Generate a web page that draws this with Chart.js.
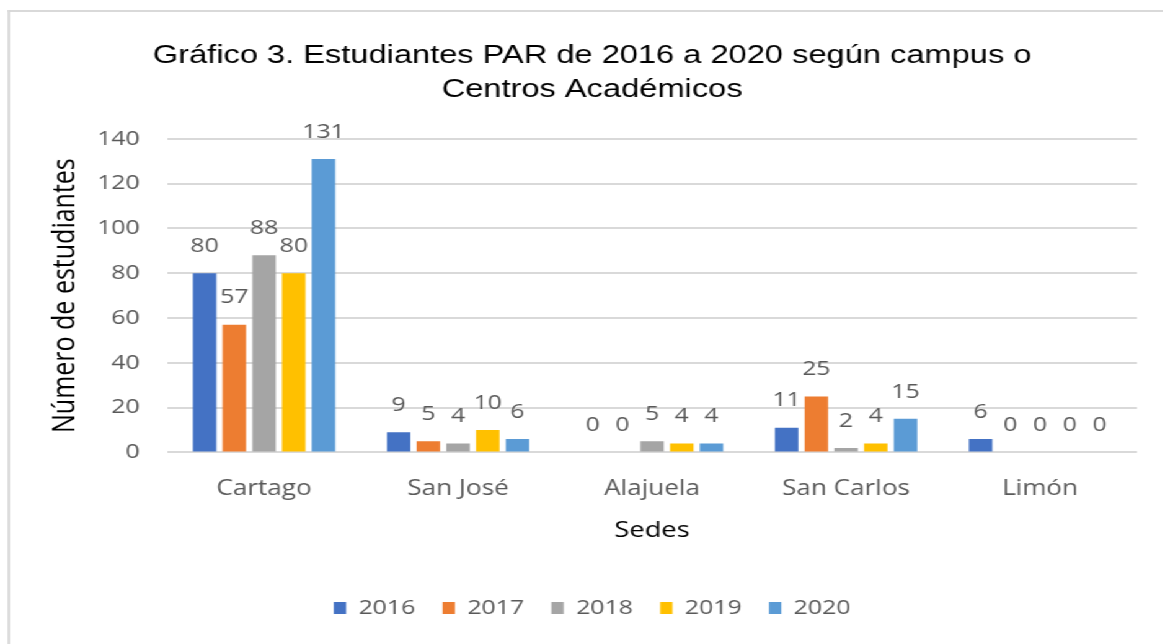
<!DOCTYPE html>
<html>
<head>
<meta charset="utf-8">
<title>Estudiantes PAR 2016-2020</title>
<script src="https://cdn.jsdelivr.net/npm/chart.js@4.4.1/dist/chart.umd.min.js"></script>
<style>
  html, body { margin: 0; padding: 0; background: #fff; overflow: hidden; }
  /* the source picture is stretched sideways, so the chart is drawn narrow and widened */
  #stage { position: absolute; left: 0; top: 0; width: 938px; height: 644px;
           transform: scaleX(1.24); transform-origin: 0 0; overflow: hidden; }
  #frame { position: absolute; left: 5.6px; top: 10px; width: 1000px; height: 700px;
           border-top: 2.5px solid #d9d9d9; border-left: 2.4px solid #d9d9d9; }
  #wrap { position: absolute; left: 0; top: 0; width: 938px; height: 644px; }
</style>
</head>
<body>
<div id="stage">
  <div id="frame"></div>
  <div id="wrap"><canvas id="chart-par"></canvas></div>
</div>
<script>
// Data
var SEDES = ['Cartago', 'San José', 'Alajuela', 'San Carlos', 'Limón'];
var YEARS = ['2016', '2017', '2018', '2019', '2020'];
var V2016 = [80, 9, 0, 11, 6];
var V2017 = [57, 5, 0, 25, 0];
var V2018 = [88, 4, 5, 2, 0];
var V2019 = [80, 10, 4, 4, 0];
var V2020 = [131, 6, 4, 15, 0];
var Y_MIN = 0, Y_MAX = 140, Y_STEP = 20;

var COLORS = ['#4472C4', '#ED7D31', '#A5A5A5', '#FFC000', '#5B9BD5'];
var SERIES = [V2016, V2017, V2018, V2019, V2020];

var LABEL_FONT = "'Open Sans', 'Noto Sans', sans-serif";
var GREY = '#595959';

// value labels above each bar (outside end, like Excel)
var barLabels = {
  id: 'barLabels',
  afterDatasetsDraw: function (chart) {
    var ctx = chart.ctx;
    ctx.save();
    ctx.font = '20px ' + LABEL_FONT;
    ctx.fillStyle = GREY;
    ctx.textAlign = 'center';
    ctx.textBaseline = 'middle';
    chart.data.datasets.forEach(function (ds, i) {
      chart.getDatasetMeta(i).data.forEach(function (bar, j) {
        ctx.fillText(String(ds.data[j]), bar.x, bar.y - 27);
      });
    });
    ctx.restore();
  }
};

Chart.defaults.font.family = LABEL_FONT;
Chart.defaults.color = GREY;

new Chart(document.getElementById('chart-par'), {
  type: 'bar',
  data: {
    labels: SEDES,
    datasets: YEARS.map(function (y, i) {
      return {
        label: y,
        data: SERIES[i],
        backgroundColor: COLORS[i],
        borderWidth: 0,
        categoryPercentage: 0.766,
        barPercentage: 0.79
      };
    })
  },
  plugins: [barLabels],
  options: {
    responsive: true, maintainAspectRatio: false, animation: false,
    layout: { padding: { left: 38, right: 21, top: 20, bottom: 16 } },
    plugins: {
      title: {
        display: true,
        text: ['Gráfico 3. Estudiantes PAR de 2016 a 2020 según campus o', 'Centros Académicos'],
        color: '#000',
        font: { family: "'Liberation Sans', Arial, sans-serif", size: 26.3, weight: 'normal', lineHeight: 1.29 },
        padding: { top: 19, bottom: 32 }
      },
      legend: {
        position: 'bottom',
        labels: { boxWidth: 10, boxHeight: 12, padding: 22, color: GREY, font: { size: 20 } }
      },
      tooltip: { enabled: false }
    },
    scales: {
      x: {
        grid: { display: false, drawTicks: false },
        border: { display: false },
        ticks: { color: GREY, font: { size: 21 }, padding: 24 },
        title: { display: true, text: 'Sedes', color: '#000', font: { size: 22 }, padding: { top: -8, bottom: 32 } }
      },
      y: {
        min: Y_MIN, max: Y_MAX,
        grid: { color: '#d9d9d9', lineWidth: 2, drawTicks: false },
        border: { display: false },
        ticks: { stepSize: Y_STEP, color: GREY, font: { size: 20 }, padding: 22 },
        title: { display: true, text: 'Número de estudiantes', color: '#000', font: { size: 25 }, padding: 0 },
        afterFit: function (scale) { scale.width = 96.7; }
      }
    }
  }
});
</script>
</body>
</html>
